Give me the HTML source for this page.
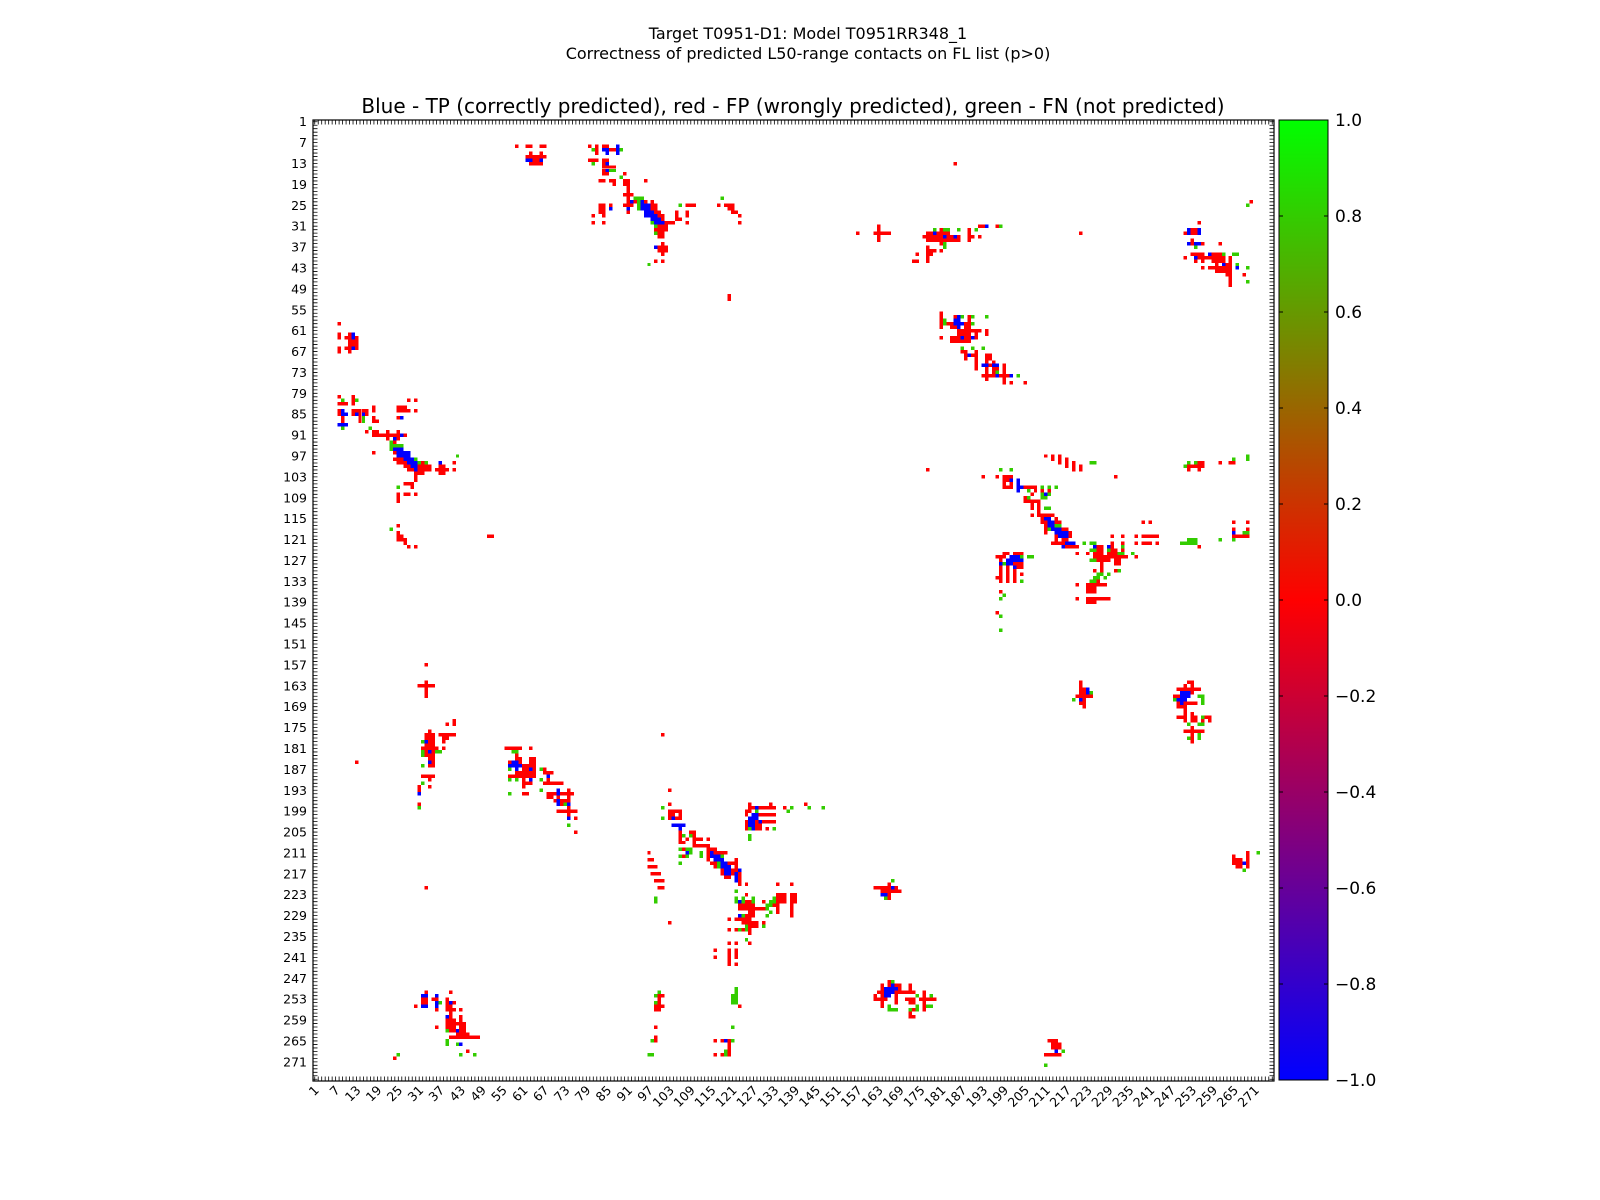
<!DOCTYPE html>
<html><head><meta charset="utf-8"><style>
html,body{margin:0;padding:0;background:#fff;}
svg{display:block;font-family:"DejaVu Sans","Liberation Sans",sans-serif;}
</style></head><body>
<svg id="chart" width="1600" height="1200" viewBox="0 0 1600 1200" xmlns="http://www.w3.org/2000/svg">
<defs>
<linearGradient id="cbgrad" x1="0" y1="1" x2="0" y2="0">
<stop offset="0" stop-color="#0000ff"/>
<stop offset="0.5" stop-color="#ff0000"/>
<stop offset="1" stop-color="#00ff00"/>
</linearGradient>
</defs>
<text x="808" y="39" font-size="16" text-anchor="middle">Target T0951-D1: Model T0951RR348_1</text>
<text x="808" y="59" font-size="16" text-anchor="middle">Correctness of predicted L50-range contacts on FL list (p&gt;0)</text>
<text x="793" y="113" font-size="20" text-anchor="middle">Blue - TP (correctly predicted), red - FP (wrongly predicted), green - FN (not predicted)</text>
<g id="cells"></g>
<rect x="313" y="120" width="961" height="961" fill="none" stroke="#000" stroke-width="1.2"/>
<g id="ticks"></g>
<g id="ylabels"></g>
<g id="xlabels"></g>
<rect x="1279" y="120" width="49" height="960" fill="url(#cbgrad)" stroke="#000" stroke-width="1"/>
<g id="cbticks"></g>
</svg>
<script>
// Contacts in the upper triangle: [row, colStart, colEnd, value]; value -1=TP, 0=FP, 1=FN. Mirrored to lower triangle.
const N = 276;
const contactSegments = [
[8,59,59,0],[8,62,63,0],[8,66,67,0],[10,63,63,0],[10,66,66,0],[11,62,67,0],[12,62,63,-1],[12,64,65,0],[12,66,66,-1],[13,63,66,0],
[8,80,80,0],[8,82,82,0],[8,84,85,0],[8,88,88,-1],
[9,81,81,1],[9,82,82,0],[9,84,85,-1],[9,86,87,0],[9,88,88,-1],[9,89,89,1],
[10,82,82,0],[10,85,85,-1],[10,88,88,-1],
[12,80,82,0],[12,84,85,0],[13,81,81,1],[13,84,84,0],[13,85,85,-1],
[14,84,87,0],[15,84,84,0],[15,85,85,-1],[15,86,87,1],[16,84,85,0],[16,90,90,0],[17,89,89,1],
[18,83,84,0],[18,86,87,0],[18,90,91,0],[18,96,96,0],[19,87,87,0],[19,90,91,0],[20,91,91,0],[21,91,91,0],[22,90,92,0],
[23,91,91,0],[23,93,95,1],[24,91,91,0],[24,92,92,-1],[24,93,93,0],[24,94,94,1],[24,95,95,-1],[24,96,96,0],[24,98,98,0],
[25,83,84,0],[25,86,86,0],[25,90,92,0],[25,94,94,1],[25,95,97,-1],[25,98,99,0],[25,106,106,1],[25,108,110,0],[25,117,117,0],[25,119,121,0],
[26,83,84,0],[26,86,86,-1],[26,91,91,-1],[26,94,94,1],[26,95,97,-1],[26,98,99,0],[26,120,121,0],
[27,83,84,0],[27,91,91,0],[27,96,98,-1],[27,99,100,0],[27,105,105,0],[27,108,108,0],[27,121,122,0],
[28,81,81,0],[28,84,84,0],[28,96,99,-1],[28,100,101,0],[28,105,105,0],[28,108,108,0],[28,123,123,0],
[29,98,100,-1],[29,101,101,0],[29,105,106,0],
[30,81,81,0],[30,84,84,0],[30,98,98,1],[30,99,101,-1],[30,102,104,0],[30,108,108,0],[30,123,123,0],
[31,99,99,1],[31,100,102,0],[32,99,102,0],[33,99,99,1],[33,100,101,0],[34,100,101,0],
[36,101,101,0],[37,99,99,-1],[37,100,102,0],[38,100,102,0],[39,101,101,0],[41,99,99,0],[41,101,101,0],[42,97,97,1],
[51,120,120,0],[52,120,120,0],[23,118,118,1],
[13,185,185,0],[33,221,221,0],
[31,163,163,0],[32,163,163,0],[33,162,166,0],[34,163,163,0],[35,163,163,0],[33,157,157,0],
[31,192,194,0],[31,194,194,-1],[31,197,197,0],[31,198,198,1],
[32,179,179,1],[32,181,181,0],[32,182,183,1],[32,186,186,1],[32,189,189,0],[32,191,191,1],
[33,177,178,0],[33,179,179,-1],[33,180,183,0],[33,189,189,0],
[34,176,181,0],[34,182,182,-1],[34,183,184,0],[34,185,185,-1],[34,186,186,0],[34,189,190,0],[34,192,192,0],
[35,177,186,0],[35,189,189,0],
[36,181,181,0],[36,182,182,1],[37,177,177,0],[37,182,182,1],[38,177,179,0],[38,181,181,0],[39,174,174,0],[39,177,178,0],[40,177,177,0],[41,173,174,0],[41,177,177,0],
[25,269,269,1],[24,270,270,0],[30,255,255,0],
[32,252,252,-1],[32,253,254,0],[32,255,255,-1],
[33,251,251,0],[33,252,252,-1],[33,253,254,0],[33,255,255,-1],
[35,253,253,0],
[36,252,252,-1],[36,253,253,0],[36,254,255,-1],[36,256,256,0],[36,261,261,0],
[37,254,254,1],
[39,253,256,0],[39,258,258,-1],[39,259,261,0],[39,262,262,1],[39,265,266,1],
[40,251,251,0],[40,254,254,-1],[40,255,262,0],[40,264,264,0],
[41,254,254,0],[41,256,256,0],[41,259,262,0],[41,264,264,0],
[42,260,260,0],[42,262,262,-1],[42,263,264,0],[42,266,266,1],
[43,256,256,0],[43,258,264,0],[43,266,266,-1],[43,269,269,1],
[44,260,264,0],[45,263,264,0],[45,268,268,0],[46,264,264,0],[47,264,264,0],[47,269,269,1],[48,264,264,0],
[56,181,181,0],[57,181,181,0],[57,185,185,0],[57,186,186,-1],[57,187,187,1],[57,189,189,0],[57,190,190,1],[57,194,194,1],
[58,181,181,0],[58,182,182,1],[58,185,186,-1],[58,189,189,0],
[59,181,181,0],[59,182,182,1],[59,183,184,0],[59,185,187,-1],[59,188,189,0],[59,190,190,1],
[60,181,181,0],[60,184,185,0],[60,186,186,-1],[60,188,189,0],
[61,186,192,0],[61,194,194,0],[62,186,189,0],[62,191,191,0],[62,194,194,0],
[63,181,181,0],[63,184,186,0],[63,187,187,-1],[63,188,189,0],[63,190,190,-1],[63,191,191,0],
[64,184,189,0],
[66,187,187,1],[66,190,190,1],[66,193,193,1],
[67,187,188,0],[67,191,191,0],
[68,188,188,0],[68,189,189,-1],[68,190,191,0],[68,194,195,0],
[69,188,188,0],[69,191,191,0],[69,194,195,0],
[70,191,191,0],[70,194,194,0],[70,196,196,0],
[71,191,191,0],[71,193,194,-1],[71,195,195,0],[71,196,197,-1],[71,199,199,0],
[72,191,191,0],[72,194,194,0],[72,196,197,0],[72,199,199,0],
[73,194,194,0],[73,196,196,0],[73,197,197,1],[73,199,199,0],
[74,193,196,0],[74,197,197,-1],[74,198,200,0],[74,201,201,-1],[74,203,203,1],
[75,194,194,0],[75,199,199,0],[76,199,199,0],[76,201,201,0],[76,205,205,0],
[97,211,211,0],[97,213,213,0],[97,215,215,0],[98,213,213,0],[98,215,215,0],[98,217,217,0],[98,265,265,1],[97,269,269,1],[98,269,269,1],
[99,215,215,0],[99,217,217,0],[99,219,219,0],[99,224,225,1],[99,252,252,1],[99,254,254,1],[99,255,256,0],[99,261,261,0],[99,264,265,0],
[100,217,217,0],[100,219,219,0],[100,221,221,0],[100,251,251,1],[100,252,256,0],
[101,177,177,0],[101,198,198,1],[101,201,201,1],[101,219,219,0],[101,221,221,0],[101,252,252,0],[101,255,255,0],
[103,193,193,0],[103,197,197,0],[103,199,201,0],[103,231,231,0],
[104,199,200,0],[104,201,201,-1],[104,203,203,-1],
[105,199,199,0],[105,201,201,0],[105,203,203,-1],
[106,199,201,0],[106,203,204,-1],[106,205,208,0],[106,210,210,1],[106,212,212,1],[106,214,214,1],
[107,203,203,-1],[107,206,206,1],[107,208,208,0],[107,210,210,0],[107,212,212,0],
[108,207,207,0],[108,210,210,1],[108,211,211,-1],[108,212,212,1],
[109,205,205,0],[109,206,206,1],[109,210,211,1],
[110,205,209,0],[111,207,207,0],[111,209,209,0],[112,207,207,0],[112,209,209,0],[112,211,212,1],[113,209,209,0],
[114,207,207,0],[114,209,213,0],[115,210,210,0],[115,211,212,-1],[115,214,214,0],
[116,210,211,0],[116,212,213,-1],[116,214,215,0],[116,239,239,0],[116,241,241,0],[116,265,265,0],[116,269,269,0],
[117,211,211,0],[117,212,213,-1],[117,214,215,1],
[118,211,211,0],[118,212,212,1],[118,213,214,-1],[118,215,215,-1],[118,216,217,0],[118,265,265,0],[118,269,269,0],
[119,211,211,0],[119,214,217,-1],[119,218,218,0],[119,265,265,-1],[119,268,269,1],
[120,214,214,0],[120,215,217,-1],[120,218,218,0],[120,230,230,0],[120,233,233,0],[120,237,237,0],[120,239,241,0],[120,242,243,0],[120,265,269,0],
[121,214,214,0],[121,216,217,0],[121,252,254,1],[121,261,261,1],[121,265,265,1],
[122,213,216,0],[122,217,219,-1],[122,222,222,1],[122,224,225,1],[122,230,230,0],[122,233,233,0],[122,237,237,0],[122,239,241,0],[122,243,243,0],[122,250,254,1],
[123,216,216,-1],[123,217,220,0],[123,225,225,-1],[123,226,227,0],[123,229,229,-1],[123,230,230,0],[123,233,233,1],[123,255,255,0],
[124,224,225,1],[124,226,227,0],[124,229,229,1],[124,230,231,0],[124,233,233,0],
[125,220,220,0],[125,223,223,0],[125,225,227,0],[125,229,231,0],[125,232,233,1],[125,236,236,1],
[126,225,227,0],[126,228,234,0],[126,237,237,0],
[127,224,225,1],[127,226,229,0],[127,231,232,0],
[128,227,227,0],[128,231,232,0],[129,227,227,0],
[130,225,225,0],[130,227,227,0],[130,231,231,0],[130,232,232,1],
[131,226,227,1],[131,229,229,1],[132,225,226,1],[132,228,228,1],[133,224,225,1],[133,226,226,0],
[134,220,220,0],[134,223,228,0],[135,223,225,0],[136,223,225,0],
[125,199,200,0],[125,202,204,0],
[126,197,199,0],[126,201,203,-1],[126,204,204,1],[126,206,207,1],
[127,198,198,0],[127,200,204,-1],
[128,198,198,-1],[128,199,199,1],[128,200,201,-1],[128,202,204,0],
[129,198,198,0],[129,200,200,0],[129,202,202,-1],[129,203,204,0],
[130,198,198,0],[130,200,200,0],[130,202,202,0],
[131,198,198,0],[131,200,200,0],[131,202,202,0],[131,204,204,0],
[132,197,198,0],[132,200,200,0],[132,202,202,0],
[133,198,198,0],[133,200,200,0],[133,202,202,0],[133,204,204,1],
[136,198,198,0],[137,199,199,1],
[138,198,198,1],[138,220,220,0],[138,223,229,0],[139,223,225,0],[142,197,197,0],[143,198,198,1],[147,198,198,1],
[162,221,221,0],[163,221,221,0],[164,221,222,0],[164,223,223,-1],[165,221,222,0],[165,223,223,-1],[165,224,224,1],[166,220,224,0],[167,219,219,1],[167,221,221,-1],[167,222,222,0],[168,221,222,0],[169,222,222,0],
[162,252,253,0],[163,251,251,0],[163,253,253,0],[164,249,255,0],[165,250,252,-1],[165,253,253,0],[166,248,249,0],[166,250,252,-1],[166,255,256,1],[167,248,248,1],[167,249,251,-1],[167,256,256,1],[168,249,249,0],[168,250,250,-1],[168,251,254,0],[168,256,256,1],[169,249,251,0],[170,251,251,0],[171,251,251,0],[171,253,253,0],[172,249,251,0],[172,253,254,0],[172,256,256,1],[172,257,258,0],[173,251,251,0],[173,253,254,0],[173,256,256,0],[173,258,258,0],[174,252,252,1],[174,255,256,1],[175,253,253,0],[176,251,256,0],[177,253,253,0],[177,255,255,1],[178,252,252,1],[178,253,253,0],[178,255,255,1],[179,253,253,0],
[211,269,269,0],[211,272,272,1],[212,265,265,0],[212,269,269,0],[213,265,267,0],[213,269,269,0],[214,265,267,0],[214,268,268,-1],[214,269,269,0],[215,266,267,0],[215,269,269,0],[216,268,268,1]
];
const tickResidues = [1,7,13,19,25,31,37,43,49,55,61,67,73,79,85,91,97,103,109,115,121,127,133,139,145,151,157,163,169,175,181,187,193,199,205,211,217,223,229,235,241,247,253,259,265,271];
const colorbarTicks = [1.0,0.8,0.6,0.4,0.2,0.0,-0.2,-0.4,-0.6,-0.8,-1.0];

const NS = "http://www.w3.org/2000/svg";
const X0 = 313, Y0 = 120, SIZE = 961, CELL = SIZE / N;
function xPos(c){ return X0 + (c - 1) * CELL; }
function yPos(r){ return Y0 + (r - 1) * CELL; }
function colorOf(v){
  if (v <= 0) { const t = v + 1; return `rgb(${Math.round(255*t)},0,${Math.round(255*(1-t))})`; }
  if (v >= 1) return "#33cc00";
  return `rgb(${Math.round(255*(1-v))},${Math.round(204*v)},0)`;
}
function mk(tag, attrs){ const e = document.createElementNS(NS, tag); for (const k in attrs) e.setAttribute(k, attrs[k]); return e; }

const cells = document.getElementById("cells");
contactSegments.forEach(s => {
  const [r, c1, c2, v] = s;
  for (let c = c1; c <= c2; c++) {
    [[r, c], [c, r]].forEach(([rr, cc]) => {
      const rect = mk("rect", {x: xPos(cc).toFixed(2), y: yPos(rr).toFixed(2), width: CELL.toFixed(2), height: CELL.toFixed(2), fill: colorOf(v), "shape-rendering": "crispEdges"});
      
      
      cells.appendChild(rect);
    });
  }
});

const ticks = document.getElementById("ticks");
let d = "";
for (let i = 1; i <= N; i++) {
  const p = X0 + (i - 0.5) * CELL, q = Y0 + (i - 0.5) * CELL;
  d += `M${p.toFixed(2)} ${Y0}v4.5M${p.toFixed(2)} ${Y0+SIZE}v-4.5M${X0} ${q.toFixed(2)}h4.5M${X0+SIZE} ${q.toFixed(2)}h-4.5`;
}
const tp = mk("path", {d: d, stroke: "#000", "stroke-width": "0.8", fill: "none"});


ticks.appendChild(tp);

const yl = document.getElementById("ylabels"), xl = document.getElementById("xlabels");
tickResidues.forEach(t => {
  const q = Y0 + (t - 0.5) * CELL;
  const ty = mk("text", {x: 307, y: (q + 4.5).toFixed(2), "font-size": "12.5", "text-anchor": "end"});
  
  
  ty.textContent = t;
  yl.appendChild(ty);
  const p = X0 + (t - 0.5) * CELL;
  const tx = mk("text", {x: 0, y: 0, "font-size": "12.5", "text-anchor": "end", transform: `translate(${(p + 5).toFixed(2)},1091) rotate(-45)`});
  
  
  tx.textContent = t;
  xl.appendChild(tx);
});

const cbt = document.getElementById("cbticks");
colorbarTicks.forEach(v => {
  const y = 120 + (1 - v) / 2 * 960;
  const ln = mk("path", {d: `M1279 ${y}h4M1328 ${y}h-4`, stroke: "#000", "stroke-width": "1"});
  
  
  cbt.appendChild(ln);
  const tx = mk("text", {x: 1335, y: (y + 6).toFixed(1), "font-size": "17"});
  
  
  tx.textContent = (v < 0 ? "\u2212" : "") + Math.abs(v).toFixed(1);
  cbt.appendChild(tx);
});
</script>
</body></html>
